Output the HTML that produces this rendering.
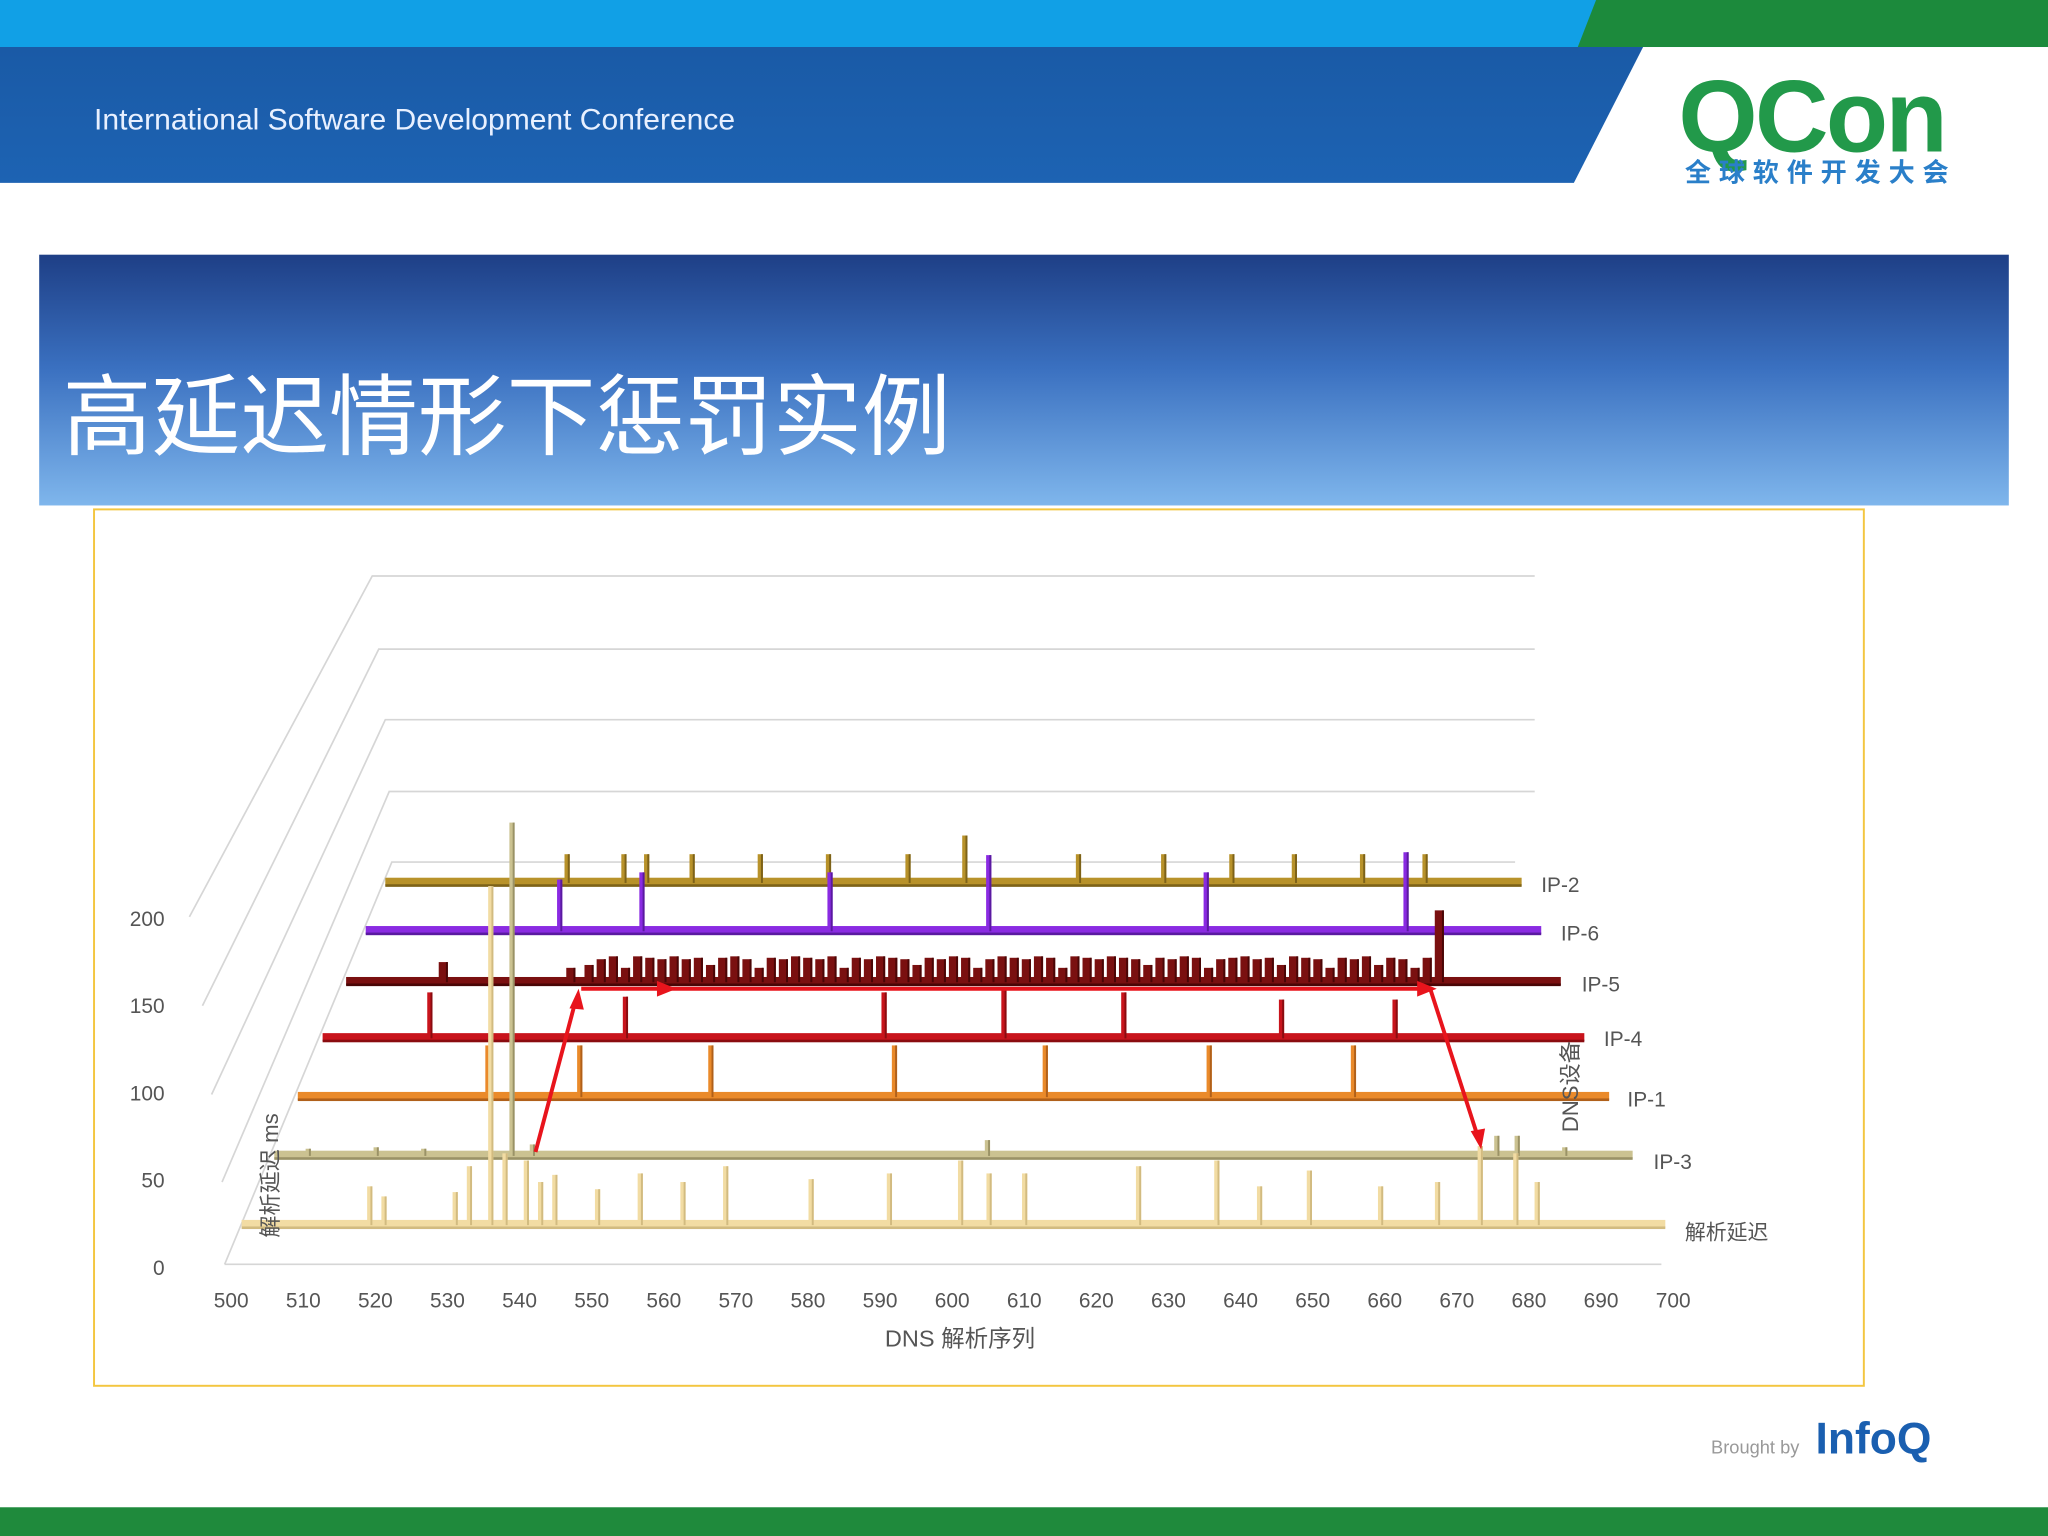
<!DOCTYPE html>
<html><head><meta charset="utf-8"><style>
html,body{margin:0;padding:0;background:#fff}
svg{display:block}
text{font-family:"Liberation Sans","Noto Sans CJK SC",sans-serif}
</style></head><body>
<svg id="s" width="2048" height="1536" viewBox="0 0 1568 1176" xmlns="http://www.w3.org/2000/svg">
<defs>
<linearGradient id="tb" x1="0" y1="0" x2="0" y2="1"><stop offset="0" stop-color="#1e3f86"/><stop offset="0.45" stop-color="#3a70c0"/><stop offset="1" stop-color="#7fb6ec"/></linearGradient>
<linearGradient id="hb" x1="0" y1="0" x2="0" y2="1"><stop offset="0" stop-color="#1a5aa6"/><stop offset="1" stop-color="#1d63b3"/></linearGradient>
</defs>
<g>
<rect x="0" y="0" width="1568" height="36" fill="#11a0e6"/>
<polygon points="1222,0 1568,0 1568,36 1208,36" fill="#1c8a3c"/>
<polygon points="0,36 1258,36 1205,140 0,140" fill="url(#hb)"/>
<text x="72" y="99" font-size="23" fill="#e8f0ff">International Software Development Conference</text>
<text x="1285" y="116" font-size="78" font-weight="bold" fill="#22994a" letter-spacing="-2">QCon</text>
<text x="1290" y="139" font-size="20" font-weight="bold" fill="#2a7fc9" letter-spacing="6">全球软件开发大会</text>
</g>
<rect x="30" y="195" width="1508" height="192" fill="url(#tb)"/>
<text x="48" y="343" font-size="68" fill="#ffffff">高延迟情形下惩罚实例</text>
<rect x="72" y="390" width="1355" height="671" fill="#fff" stroke="#f3c640" stroke-width="1.5"/>
<g id="grid"></g>
<g id="rows"></g>
<g id="axes"></g>
<g stroke="#e8141c" stroke-width="3" fill="none">
<line x1="410" y1="882" x2="441" y2="765"/>
<line x1="445" y1="757" x2="1092" y2="757"/>
<line x1="1095" y1="757" x2="1132" y2="872"/>
</g>
<g fill="#e8141c">
<polygon points="443,757 436,772 447,773"/>
<polygon points="518,757 503,751 503,763"/>
<polygon points="1100,757 1085,751 1085,763"/>
<polygon points="1134,880 1126,866 1137,864"/>
</g>
<g>
<text x="1310" y="1113" font-size="14" fill="#999">Brought by</text>
<text x="1390" y="1113" font-size="34" font-weight="bold" fill="#1a5fb0">InfoQ</text>
<rect x="0" y="1154" width="1568" height="22" fill="#1f8a3c"/>
</g>
</svg>
<script>
const seqTicks=[500,510,520,530,540,550,560,570,580,590,600,610,620,630,640,650,660,670,680,690,700];
const msTicks=[0,50,100,150,200];
const seriesNames=["IP-2","IP-6","IP-5","IP-4","IP-1","IP-3","解析延迟"];
const ip2Seq=[532,542,546,554,566,578,592,602,622,637,649,660,672,683];
const ip2Val=[20,20,20,20,20,20,20,33,20,20,20,20,20,20];
const ip6Seq=[533,547,579,606,643,677];
const ip6Val=[36,41,41,53,41,55];
const ip5Seq=[516,537,540,542,544,546,548,550,552,554,556,558,560,562,564,566,568,570,572,574,576,578,580,582,584,586,588,590,592,594,596,598,600,602,604,606,608,610,612,614,616,618,620,622,624,626,628,630,632,634,636,638,640,642,644,646,648,650,652,654,656,658,660,662,664,666,668,670,672,674,676,678,680];
const ip5Val=[14,10,12,16,18,10,18,17,16,18,16,17,12,17,18,16,10,17,16,18,17,16,18,10,17,16,18,17,16,12,17,16,18,17,10,16,18,17,16,18,17,10,18,17,16,18,17,16,12,17,16,18,17,10,16,17,18,16,17,12,18,17,16,10,17,16,18,12,17,16,10,17,50];
const ip4Seq=[517,548,589,608,627,652,670];
const ip4Val=[32,29,32,35,32,27,27];
const ip1Seq=[529,543,563,591,614,639,661];
const ip1Val=[36,36,36,36,36,36,36];
const ip3Seq=[505,515,522,535,538,605,680,683,690];
const ip3Val=[5,6,5,232,8,11,14,14,6];
const dnsSeq=[518,520,530,532,535,537,540,542,544,550,556,562,568,580,591,601,605,610,626,637,643,650,660,668,674,679,682];
const dnsVal=[27,20,23,41,236,50,45,30,35,25,36,30,41,32,36,45,36,36,41,45,27,38,27,30,55,50,30];
const ns="http://www.w3.org/2000/svg";
function mk(tag,attrs,parent){const e=document.createElementNS(ns,tag);for(const k in attrs)e.setAttribute(k,attrs[k]);parent.appendChild(e);return e;}
const rowsGeo=[[295,1165,676,"#b8922a","#7d6218",1180,683],[280,1180,713,"#8a2be2","#5a1aa0",1195,720],[265,1195,752,"#7a1010","#4a0606",1211,759],[247,1213,795,"#c8141c","#8a0c10",1228,801],[228,1232,840,"#ea8a2a","#b0601a",1246,847],[210,1250,885,"#cbc291","#9a9266",1266,895],[185,1275,938,"#f2dca3","#d2bb80",1290,949]];
const seqArr=[ip2Seq,ip6Seq,ip5Seq,ip4Seq,ip1Seq,ip3Seq,dnsSeq];
const valArr=[ip2Val,ip6Val,ip5Val,ip4Val,ip1Val,ip3Val,dnsVal];
const K=1.1;
const grid=document.getElementById('grid'),rows=document.getElementById('rows'),axes=document.getElementById('axes');
[[441,285,145,702],[497,290,155,770],[551,295,162,838],[606,298,170,905],[660,300,172,968]].forEach(g=>{
 const p=mk('polyline',{points:`${g[0]===660?1160:1175},${g[0]} ${g[1]},${g[0]} ${g[2]},${g[3]}`,fill:'none',stroke:'#d6d6d6','stroke-width':1.3},grid);
 
});
const fl=mk('line',{x1:172,y1:968,x2:1272,y2:968,stroke:'#d6d6d6','stroke-width':1.3},grid);

rowsGeo.forEach((r,i)=>{
 const g=mk('g',{},rows);
 
 
 const xs=s=>r[0]+(s-500)/200*(r[1]-r[0]);
 const band=mk('rect',{x:r[0],y:r[2]-4,width:r[1]-r[0],height:6,fill:r[3]},g);
 
 mk('rect',{x:r[0],y:r[2]+1,width:r[1]-r[0],height:2,fill:r[4]},g);
 const w=i===2?7:4;
 seqArr[i].forEach((s,j)=>{
  const h=valArr[i][j]*K,x=xs(s);
  const b=mk('rect',{x:x-w/2,y:r[2]-h,width:w,height:h,fill:r[3]},g);
  
  
  mk('rect',{x:x+w/2-1.5,y:r[2]-h,width:1.5,height:h,fill:r[4]},g);
 });
 const t=mk('text',{x:r[5],y:r[6],'font-size':16,fill:'#555'},g);t.textContent=seriesNames[i];
 
});
seqTicks.forEach(v=>{const t=mk('text',{x:177+(v-500)/200*1104,y:1001,'font-size':16,fill:'#555','text-anchor':'middle'},axes);t.textContent=v;
 });
msTicks.forEach(v=>{const t=mk('text',{x:126,y:976-v*1.335,'font-size':16,fill:'#555','text-anchor':'end'},axes);t.textContent=v;
 });
let t=mk('text',{x:735,y:1031,'font-size':18,fill:'#555','text-anchor':'middle'},axes);t.textContent='DNS 解析序列';

t=mk('text',{x:0,y:0,'font-size':17,fill:'#555','text-anchor':'middle',transform:'translate(213,900) rotate(-90)'},axes);t.textContent='解析延迟  ms';

t=mk('text',{x:0,y:0,'font-size':17,fill:'#555','text-anchor':'middle',transform:'translate(1208,832) rotate(-90)'},axes);t.textContent='DNS设备';

</script>
</body></html>
